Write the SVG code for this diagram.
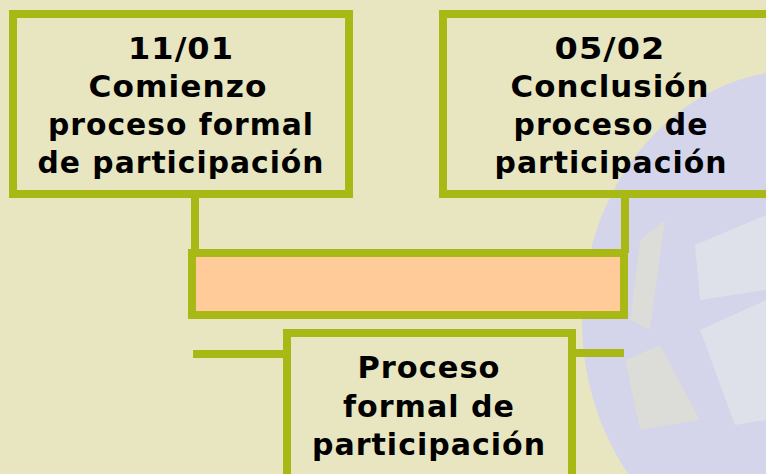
<svg xmlns="http://www.w3.org/2000/svg" width="766" height="474" viewBox="0 0 766 474">
<style>
.box{fill:none;stroke:#A8B814;stroke-width:8}
.bar{fill:#FFCC99;stroke:#A8B814;stroke-width:8}
.ln{stroke:#A8B814;stroke-width:8;fill:none}
.t{font-family:"DejaVu Sans",Verdana,sans-serif;font-weight:bold;font-size:30px;letter-spacing:1px;fill:#000;text-anchor:middle}
.hl{fill:#E2E4EA;opacity:0.75}
.yl{fill:#E4E3C8;opacity:0.5}
</style>
<rect width="766" height="474" fill="#E8E6C0"/>
<g id="logo">
<ellipse cx="800" cy="320" rx="218" ry="250" fill="#D4D4EA"/>
<path class="hl" d="M695 245 L766 215 L766 290 L700 300 Z"/>
<path class="hl" d="M700 330 L766 300 L766 420 L735 425 Z"/>
<path class="yl" d="M640 240 L665 220 L650 330 L630 320 Z"/>
<path class="yl" d="M625 360 L660 345 L700 420 L640 430 Z"/>
</g>
<g id="connectors">
<line class="ln" x1="195" y1="194" x2="195" y2="253"/>
<line class="ln" x1="625" y1="194" x2="625" y2="253"/>
<line class="ln" x1="193" y1="354" x2="287" y2="354"/>
<line class="ln" x1="572" y1="353" x2="624" y2="353"/>
</g>
<g id="start">
<rect class="box" x="13" y="14" width="336" height="180"/>
<text class="t" x="181" y="59" textLength="106" lengthAdjust="spacingAndGlyphs">11/01</text>
<text class="t" x="178" y="97" textLength="179" lengthAdjust="spacingAndGlyphs">Comienzo</text>
<text class="t" x="181" y="135" textLength="266" lengthAdjust="spacingAndGlyphs">proceso formal</text>
<text class="t" x="181" y="173" textLength="287" lengthAdjust="spacingAndGlyphs">de participación</text>
</g>
<g id="end">
<rect class="box" x="443" y="14" width="340" height="180"/>
<text class="t" x="610" y="59" textLength="111" lengthAdjust="spacingAndGlyphs">05/02</text>
<text class="t" x="610" y="97" textLength="199" lengthAdjust="spacingAndGlyphs">Conclusión</text>
<text class="t" x="611" y="135" textLength="195" lengthAdjust="spacingAndGlyphs">proceso de</text>
<text class="t" x="611" y="173" textLength="233" lengthAdjust="spacingAndGlyphs">participación</text>
</g>
<g id="bar">
<rect class="bar" x="192" y="253" width="432" height="62"/>
</g>
<g id="process">
<rect class="box" x="287" y="333" width="285" height="160"/>
<text class="t" x="429" y="378" textLength="143" lengthAdjust="spacingAndGlyphs">Proceso</text>
<text class="t" x="429" y="417" textLength="172" lengthAdjust="spacingAndGlyphs">formal de</text>
<text class="t" x="429" y="455" textLength="234" lengthAdjust="spacingAndGlyphs">participación</text>
</g>
</svg>
